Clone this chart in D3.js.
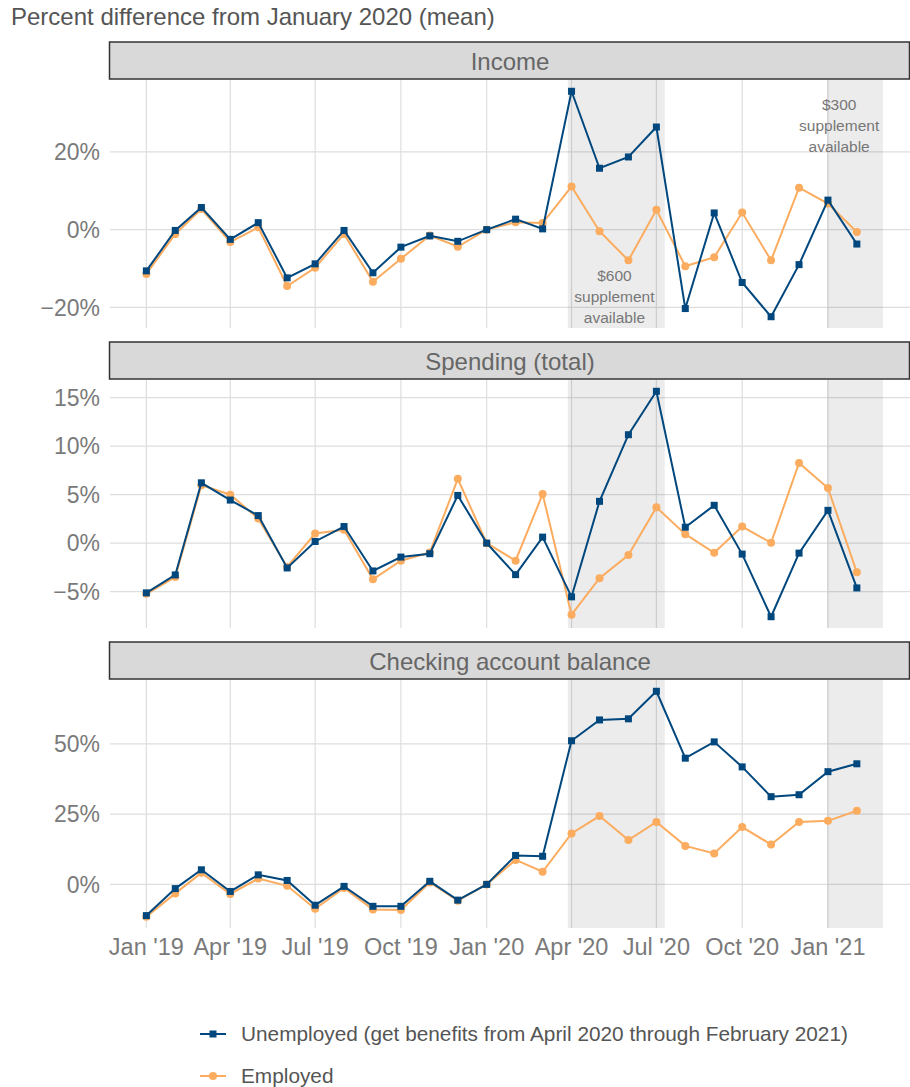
<!DOCTYPE html>
<html lang="en">
  <head>
    <meta charset="utf-8">
    <title>Percent difference from January 2020</title>
    <script src="https://d3js.org/d3.v7.min.js"></script>
    <style>
      body { margin: 0; background: #fff; }
      text { font-family: "Liberation Sans", Arial, sans-serif; }
    </style>
  </head>
  <body>
  <div id="chart"></div>
  <script>

  // months shown, Jan 2019 .. Feb 2021
  var months = ["2019-01","2019-02","2019-03","2019-04","2019-05","2019-06","2019-07","2019-08","2019-09","2019-10","2019-11","2019-12",
                "2020-01","2020-02","2020-03","2020-04","2020-05","2020-06","2020-07","2020-08","2020-09","2020-10","2020-11","2020-12",
                "2021-01","2021-02"];

  var panels = ["Income", "Spending (total)", "Checking account balance"];

  var incomeUnemp = [-10.6,-0.2,5.7,-2.5,1.8,-12.4,-8.8,-0.2,-11.1,-4.5,-1.6,-3.0,0,2.7,0.2,35.6,15.8,18.7,26.4,-20.3,4.3,-13.6,-22.4,-9.0,7.6,-3.7];
  var incomeEmp = [-11.4,-1.1,5.3,-3.2,0.6,-14.5,-9.8,-1.1,-13.4,-7.5,-1.5,-4.4,0,1.9,1.7,11.1,-0.4,-7.9,5.1,-9.4,-7.1,4.4,-7.9,10.8,6.7,-0.6];
  var spendUnemp = [-5.13,-3.28,6.22,4.44,2.84,-2.56,0.17,1.71,-2.87,-1.44,-1.09,4.92,0,-3.25,0.62,-5.54,4.31,11.18,15.66,1.64,3.90,-1.13,-7.59,-1.03,3.38,-4.62];
  var spendEmp = [-5.23,-3.49,5.98,4.99,2.53,-2.46,0.99,1.37,-3.73,-1.81,-0.96,6.63,0,-1.81,5.06,-7.38,-3.62,-1.23,3.69,0.92,-0.99,1.71,0.03,8.27,5.68,-3.01];
  var checkUnemp = [-11.1,-1.5,5.2,-2.5,3.4,1.4,-7.4,-0.7,-7.8,-7.8,1.1,-5.6,0,10.3,10.0,51.1,58.5,58.9,68.7,44.9,50.7,41.8,31.2,31.9,40.1,42.9];
  var checkEmp = [-11.5,-3.2,4.1,-3.4,2.1,-0.5,-8.7,-1.3,-8.9,-9.1,0.7,-5.8,0,8.7,4.5,18.1,24.3,15.8,22.2,13.7,11.0,20.4,14.2,22.2,22.6,26.2];

  var yTicks = [[-20, 0, 20], [-5, 0, 5, 10, 15], [0, 25, 50]];
  var xTicks = ["2019-01","2019-04","2019-07","2019-10","2020-01","2020-04","2020-07","2020-10","2021-01"];
  var xTickLabels = ["Jan '19","Apr '19","Jul '19","Oct '19","Jan '20","Apr '20","Jul '20","Oct '20","Jan '21"];

  // supplement periods
  var shades = [["2020-03-28", "2020-07-10"], ["2020-12-31", "2021-03-01"]];
  var notes = [{date: "2020-05-17", value: -17.1, lines: ["$600", "supplement", "available"]},
               {date: "2021-01-13", value: 26.8, lines: ["$300", "supplement", "available"]}];

  var seriesNames = ["Unemployed (get benefits from April 2020 through February 2021)", "Employed"];
  var colors = ["#00477d", "#fbac5f"];

  var w = 910, h = 1087;
  var left = 110, right = 910;
  var panelTop = [80, 380, 680];
  var panelH = 248;
  var stripH = 38;

  var parse = d3.timeParse("%Y-%m-%d");
  var parseMonth = d3.timeParse("%Y-%m");

  var svg = d3.select("#chart").append("svg")
    .attr("width", w)
    .attr("height", h);

  svg.append("text")
    .attr("x", 11)
    .attr("y", 25)
    .attr("fill", "#555")
    .attr("font-size", 24)
    .text("Percent difference from January 2020 (mean)");

  var xScale = d3.scaleTime()
    .domain([parse("2018-11-23"), parse("2021-03-30")])
    .range([left, right]);

  var data = [[incomeUnemp, incomeEmp], [spendUnemp, spendEmp], [checkUnemp, checkEmp]];

  data.forEach(function(pair, p) {
    var top = panelTop[p];
    var all = pair[0].concat(pair[1]);
    var lo = d3.min(all), hi = d3.max(all), pad = (hi - lo) * 0.05;
    var yScale = d3.scaleLinear()
      .domain([lo - pad, hi + pad])
      .range([top + panelH, top]);

    var g = svg.append("g");

    // strip
    g.append("rect")
      .attr("x", left - 0.5)
      .attr("y", top - stripH)
      .attr("width", right - left)
      .attr("height", stripH - 1)
      .attr("fill", "#d9d9d9")
      .attr("stroke", "#333")
      .attr("stroke-width", 1.5);
    g.append("text")
      .attr("x", (left + right) / 2)
      .attr("y", top - stripH / 2)
      .attr("dy", "0.36em")
      .attr("text-anchor", "middle")
      .attr("fill", "#666")
      .attr("font-size", 24)
      .text(panels[p]);

    // grid
    g.selectAll(".hgrid").data(yTicks[p]).enter().append("line")
      .attr("x1", left).attr("x2", right)
      .attr("y1", d => yScale(d)).attr("y2", d => yScale(d))
      .attr("stroke", "#dedede").attr("stroke-width", 1.2);
    g.selectAll(".vgrid").data(xTicks).enter().append("line")
      .attr("x1", d => xScale(parseMonth(d))).attr("x2", d => xScale(parseMonth(d)))
      .attr("y1", top).attr("y2", top + panelH)
      .attr("stroke", "#dedede").attr("stroke-width", 1.2);

    // y labels
    g.selectAll(".ylab").data(yTicks[p]).enter().append("text")
      .attr("x", 100)
      .attr("y", d => yScale(d))
      .attr("dy", "0.36em")
      .attr("text-anchor", "end")
      .attr("fill", "#7a7a7a")
      .attr("font-size", 23)
      .text(d => (d < 0 ? "\u2212" : "") + Math.abs(d) + "%");

    // shaded periods
    g.selectAll(".shade").data(shades).enter().append("rect")
      .attr("x", d => xScale(parse(d[0])))
      .attr("width", d => xScale(parse(d[1])) - xScale(parse(d[0])))
      .attr("y", top)
      .attr("height", panelH)
      .attr("fill", "#000")
      .attr("fill-opacity", 0.075);

    if (p == 0) {
      notes.forEach(function(n) {
        g.append("text")
          .attr("x", xScale(parse(n.date)))
          .attr("y", yScale(n.value))
          .attr("text-anchor", "middle")
          .attr("fill", "#777")
          .attr("font-size", 15.5)
          .selectAll("tspan").data(n.lines).enter().append("tspan")
            .attr("x", xScale(parse(n.date)))
            .attr("dy", (d, i) => i == 0 ? "-1.0em" : "1.36em")
            .text(d => d);
      });
    }

    // series, employed first so unemployed sits on top
    [1, 0].forEach(function(s) {
      var vals = pair[s];
      var line = d3.line()
        .x((d, i) => xScale(parseMonth(months[i])))
        .y(d => yScale(d));
      g.append("path")
        .datum(vals)
        .attr("d", line)
        .attr("fill", "none")
        .attr("stroke", colors[s])
        .attr("stroke-width", 2);
      if (s == 0) {
        g.selectAll(".sq").data(vals).enter().append("rect")
          .attr("x", (d, i) => xScale(parseMonth(months[i])) - 3.5)
          .attr("y", d => yScale(d) - 3.5)
          .attr("width", 7).attr("height", 7)
          .attr("fill", colors[s]);
      } else {
        g.selectAll(".dot").data(vals).enter().append("circle")
          .attr("cx", (d, i) => xScale(parseMonth(months[i])))
          .attr("cy", d => yScale(d))
          .attr("r", 4)
          .attr("fill", colors[s]);
      }
    });
  });

  // x axis labels under the last panel
  svg.selectAll(".xlab").data(xTicks).enter().append("text")
    .attr("x", d => xScale(parseMonth(d)))
    .attr("y", 955)
    .attr("text-anchor", "middle")
    .attr("fill", "#7a7a7a")
    .attr("font-size", 23.5)
    .text((d, i) => xTickLabels[i]);

  // legend
  var legendY = [1034, 1076];
  seriesNames.forEach(function(name, s) {
    var lg = svg.append("g");
    lg.append("line")
      .attr("x1", 200).attr("x2", 226)
      .attr("y1", legendY[s]).attr("y2", legendY[s])
      .attr("stroke", colors[s]).attr("stroke-width", 2);
    if (s == 0) {
      lg.append("rect").attr("x", 209.5).attr("y", legendY[s] - 3.5)
        .attr("width", 7).attr("height", 7).attr("fill", colors[s]);
    } else {
      lg.append("circle").attr("cx", 213).attr("cy", legendY[s])
        .attr("r", 4).attr("fill", colors[s]);
    }
    lg.append("text")
      .attr("x", 241)
      .attr("y", legendY[s])
      .attr("dy", "0.36em")
      .attr("fill", "#555")
      .attr("font-size", 20.8)
      .text(name);
  });

  </script>
  </body>
</html>
